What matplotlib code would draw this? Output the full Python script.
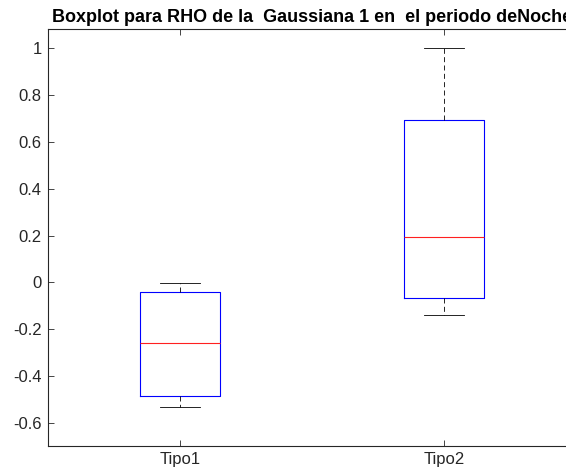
import matplotlib.pyplot as plt

# estadisticos del boxplot de RHO (Gaussiana 1, periodo Noche)
tipos = ['Tipo1', 'Tipo2']
bigote_inf = [-0.535, -0.138]
q1 = [-0.488, -0.069]
mediana = [-0.258, 0.195]
q3 = [-0.040, 0.695]
bigote_sup = [-0.004, 1.0]

plt.rcParams['font.family'] = ['Liberation Sans', 'DejaVu Sans']
gris = (0.15, 0.15, 0.15)

fig = plt.figure(figsize=(5.66, 4.75), dpi=100)
# el eje se sale un poco por la derecha de la figura
ax = fig.add_axes([48 / 566, 1 - 446 / 475, 528 / 566, (446 - 29) / 475])

stats = []
for i, nombre in enumerate(tipos):
    stats.append({
        'label': nombre,
        'whislo': bigote_inf[i],
        'q1': q1[i],
        'med': mediana[i],
        'q3': q3[i],
        'whishi': bigote_sup[i],
        'fliers': [],
    })

ax.bxp(stats, positions=[1, 2], widths=0.3, capwidths=0.15,
       showfliers=False,
       boxprops=dict(color='#0000ff', linewidth=0.8),
       medianprops=dict(color='#ff2020', linewidth=0.8),
       whiskerprops=dict(color='black', linewidth=0.6, linestyle=(0, (6, 4))),
       capprops=dict(color='black', linewidth=0.6))

ax.set_xlim(0.5, 2.5)
ax.set_ylim(-0.7, 1.083)
ax.set_yticks([-0.6, -0.4, -0.2, 0, 0.2, 0.4, 0.6, 0.8, 1])
ax.set_yticklabels(['-0.6', '-0.4', '-0.2', '0', '0.2', '0.4', '0.6', '0.8', '1'])
ax.set_xticks([1, 2])
ax.set_xticklabels(tipos)

ax.tick_params(direction='in', top=True, right=False, length=4, width=0.6,
               colors=gris, labelsize=12, pad=4.5)
for lado in ax.spines.values():
    lado.set_color(gris)
    lado.set_linewidth(0.8)
ax.spines['right'].set_visible(False)

ax.set_title('Boxplot para RHO de la  Gaussiana 1 en  el periodo deNoche',
             fontsize=13, fontweight='bold', color='black', pad=5)

fig.savefig('out.png', dpi=100)
